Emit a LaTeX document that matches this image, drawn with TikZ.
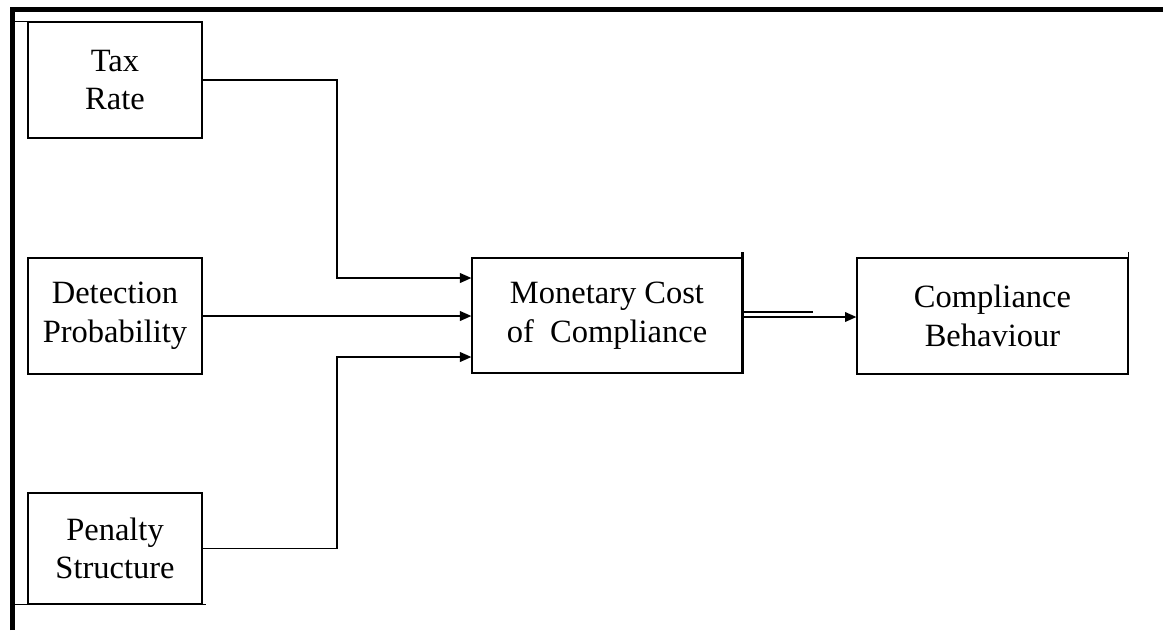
\documentclass[tikz,border=0pt]{standalone}
\usepackage{fontspec}
\setmainfont{Liberation Serif}
\usetikzlibrary{arrows.meta, positioning}

\begin{document}
\begin{tikzpicture}[x=0.02cm, y=-0.02cm, >={Triangle[length=6.5pt,width=5.5pt]},
    box/.style={draw, line width=0.7pt, align=center, inner sep=0pt, font=\fontsize{18.5}{22}\selectfont},
    link/.style={line width=0.95pt}]
    \useasboundingbox (0,0) rectangle (1163,630);

    % 外框
    \draw[line width=2.85pt] (12.5,630) -- (12.5,9.5) -- (1163,9.5);
    \coordinate (fl) at (15,0);

    % 三个因素
    \node[box, minimum width=3.48cm, minimum height=2.32cm] (tax) at (115,80) {Tax\\Rate};
    \node[box, minimum width=3.48cm, minimum height=2.32cm] (det) at (115,316) {Detection\\Probability};
    \node[box, minimum width=3.48cm, minimum height=2.22cm] (pen) at (115,548.5) {Penalty\\Structure};
    \draw[line width=0.7pt] (fl |- tax.north) -- (tax.north west);
    \draw[link] (fl |- pen.south) -- ([xshift=0.06cm]pen.south east);

    % 中间
    \node[box, minimum width=5.4cm, minimum height=2.3cm] (mon) at (607,315.5) {Monetary Cost\\of\ \ Compliance};
    \draw[line width=1.3pt] ([yshift=0.1cm]mon.north east) -- (mon.south east);

    % 结果
    \node[box, minimum width=5.42cm, minimum height=2.32cm] (beh) at (992.5,316) {Compliance\\Behaviour};
    \draw[line width=0.9pt] ([yshift=0.1cm]beh.north east) -- (beh.south east);

    % 连线
    \coordinate (j1) at (337,278);
    \coordinate (j3) at (337,357);
    \draw[link, ->] (tax.east) -| (j1) -- (j1 -| mon.west);
    \draw[link, ->] (det.east) -- (det.east -| mon.west);
    \draw[link, ->] (pen.east) -| (j3) -- (j3 -| mon.west);

    \coordinate (dbl) at (813,312);
    \draw[line width=1.2pt] (dbl -| mon.east) -- (dbl);
    \draw[link, ->] ([yshift=-0.03cm]mon.east) -- ([yshift=-0.03cm]mon.east -| beh.west);
\end{tikzpicture}
\end{document}
